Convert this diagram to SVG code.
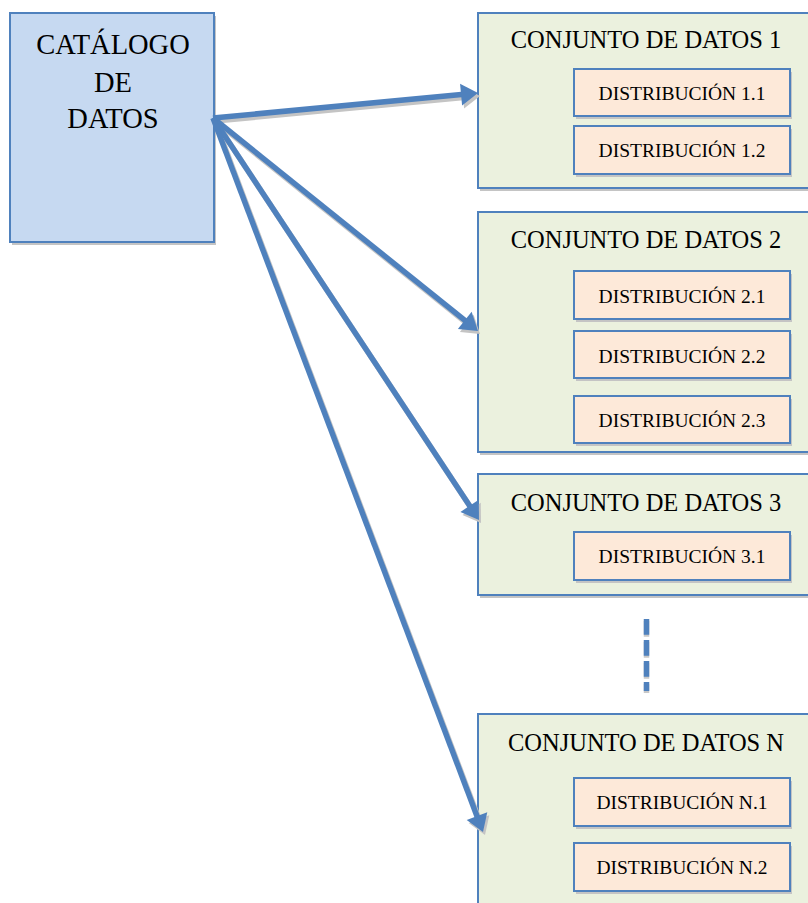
<svg xmlns="http://www.w3.org/2000/svg" width="808" height="903" viewBox="0 0 808 903">
<defs>
<style>
.shadow{fill:#c4c4c4;}
.cat{fill:#c6d9f1;stroke:#4f81bd;stroke-width:2;}
.ds{fill:#ebf1de;stroke:#4f81bd;stroke-width:2;}
.dist{fill:#fde9d9;stroke:#4f81bd;stroke-width:2;}
.t{font-family:"Liberation Serif","Times New Roman",serif;fill:#000;text-anchor:middle;}
.tc{font-size:28.5px;}
.th{font-size:24.5px;}
.td{font-size:19.5px;}
.arr{stroke:#4f81bd;stroke-width:5.5;fill:none;marker-end:url(#head);}
.arrs{stroke:#c4c4c4;stroke-width:5.5;fill:none;marker-end:url(#heads);}
</style>
<marker id="head" markerUnits="userSpaceOnUse" viewBox="0 -11 17 22" refX="3" refY="0" markerWidth="17" markerHeight="22" orient="auto" overflow="visible">
<path d="M0,-11 L17,0 L0,11 z" fill="#4f81bd"/>
</marker>
<marker id="heads" markerUnits="userSpaceOnUse" viewBox="0 -11 17 22" refX="3" refY="0" markerWidth="17" markerHeight="22" orient="auto" overflow="visible">
<path d="M0,-11 L17,0 L0,11 z" fill="#c4c4c4"/>
</marker>
</defs>
<rect width="808" height="903" fill="#fff"/>

<g id="catalogo">
<rect class="shadow" x="12" y="16" width="204" height="229"/>
<rect class="cat" x="10" y="13" width="204" height="229"/>
<text class="t tc" x="113" y="54">CATÁLOGO</text>
<text class="t tc" x="113" y="92">DE</text>
<text class="t tc" x="113" y="128">DATOS</text>
</g>

<g id="conjunto1">
<rect class="shadow" x="480" y="16" width="340" height="175"/>
<rect class="ds" x="478" y="13" width="340" height="175"/>
<text class="t th" x="646" y="48">CONJUNTO DE DATOS 1</text>
</g>
<g id="dist1-1">
<rect class="shadow" x="576" y="72" width="216" height="47"/>
<rect class="dist" x="574" y="69" width="216" height="47"/>
<text class="t td" x="682" y="100">DISTRIBUCIÓN 1.1</text>
</g>
<g id="dist1-2">
<rect class="shadow" x="576" y="129" width="216" height="48"/>
<rect class="dist" x="574" y="126" width="216" height="48"/>
<text class="t td" x="682" y="157">DISTRIBUCIÓN 1.2</text>
</g>

<g id="conjunto2">
<rect class="shadow" x="480" y="215" width="340" height="240"/>
<rect class="ds" x="478" y="212" width="340" height="240"/>
<text class="t th" x="646" y="248">CONJUNTO DE DATOS 2</text>
</g>
<g id="dist2-1">
<rect class="shadow" x="576" y="274" width="216" height="48"/>
<rect class="dist" x="574" y="271" width="216" height="48"/>
<text class="t td" x="682" y="303">DISTRIBUCIÓN 2.1</text>
</g>
<g id="dist2-2">
<rect class="shadow" x="576" y="334" width="216" height="47"/>
<rect class="dist" x="574" y="331" width="216" height="47"/>
<text class="t td" x="682" y="362.5">DISTRIBUCIÓN 2.2</text>
</g>
<g id="dist2-3">
<rect class="shadow" x="576" y="399" width="216" height="47"/>
<rect class="dist" x="574" y="396" width="216" height="47"/>
<text class="t td" x="682" y="426.5">DISTRIBUCIÓN 2.3</text>
</g>

<g id="conjunto3">
<rect class="shadow" x="480" y="477" width="340" height="121"/>
<rect class="ds" x="478" y="474" width="340" height="121"/>
<text class="t th" x="646" y="511">CONJUNTO DE DATOS 3</text>
</g>
<g id="dist3-1">
<rect class="shadow" x="576" y="535" width="216" height="48"/>
<rect class="dist" x="574" y="532" width="216" height="48"/>
<text class="t td" x="682" y="562.5">DISTRIBUCIÓN 3.1</text>
</g>

<g id="continuacion">
<line x1="646.5" y1="621" x2="646.5" y2="693" stroke="#c8c8c8" stroke-width="5.5" stroke-dasharray="15.7 5.3"/>
<line x1="646.5" y1="619" x2="646.5" y2="691" stroke="#4f81bd" stroke-width="5.5" stroke-dasharray="15.7 5.3"/>
</g>

<g id="conjuntoN">
<rect class="shadow" x="480" y="717" width="340" height="200"/>
<rect class="ds" x="478" y="714" width="340" height="200"/>
<text class="t th" x="646" y="750.5">CONJUNTO DE DATOS N</text>
</g>
<g id="distN-1">
<rect class="shadow" x="576" y="781" width="216" height="48"/>
<rect class="dist" x="574" y="778" width="216" height="48"/>
<text class="t td" x="682" y="809">DISTRIBUCIÓN N.1</text>
</g>
<g id="distN-2">
<rect class="shadow" x="576" y="846" width="216" height="48"/>
<rect class="dist" x="574" y="843" width="216" height="48"/>
<text class="t td" x="682" y="874">DISTRIBUCIÓN N.2</text>
</g>

<g id="connectors">
<g transform="translate(2,3)">
<line class="arrs" x1="213" y1="118" x2="464.06" y2="94.31"/>
<line class="arrs" x1="213" y1="118" x2="467.09" y2="322.23"/>
<line class="arrs" x1="213" y1="118" x2="471.27" y2="508.32"/>
<line class="arrs" x1="213" y1="118" x2="478.05" y2="818.91"/>
</g>
<line class="arr" x1="213" y1="118" x2="464.06" y2="94.31"/>
<line class="arr" x1="213" y1="118" x2="467.09" y2="322.23"/>
<line class="arr" x1="213" y1="118" x2="471.27" y2="508.32"/>
<line class="arr" x1="213" y1="118" x2="478.05" y2="818.91"/>
</g>
</svg>
